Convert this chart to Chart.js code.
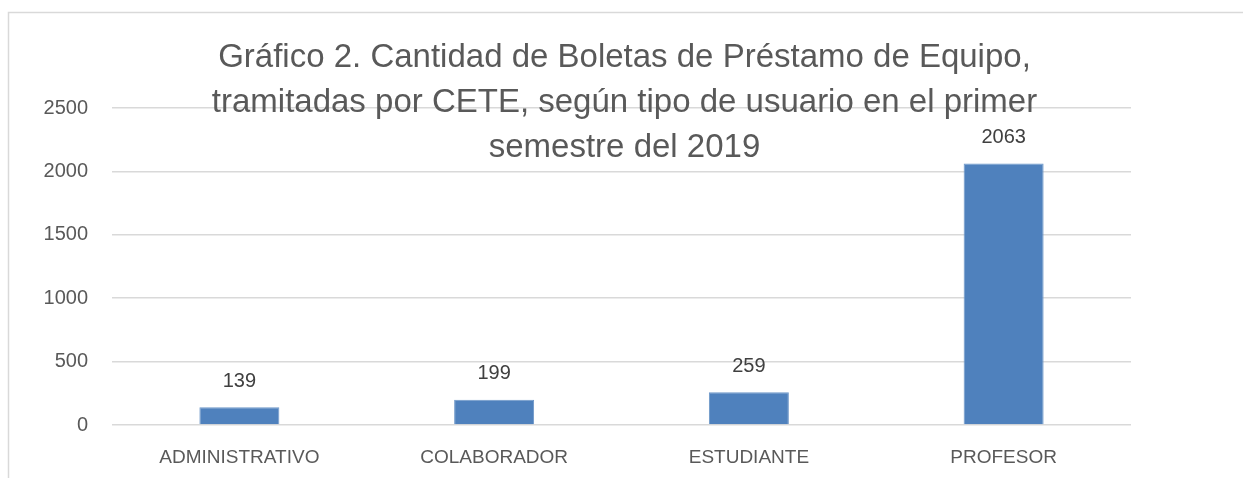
<!DOCTYPE html>
<html lang="es">
<head>
<meta charset="utf-8">
<title>Boletas de Préstamo de Equipo</title>
<script src="https://cdn.jsdelivr.net/npm/chart.js@4"></script>
<style>
  html, body { margin: 0; padding: 0; background: #fff; }
  #wrap { width: 1243px; height: 478px; position: relative; }
</style>
</head>
<body>
<div id="wrap"><canvas id="boletasChart"></canvas></div>
<script>
// datos del gráfico
const categorias = ['ADMINISTRATIVO', 'COLABORADOR', 'ESTUDIANTE', 'PROFESOR'];
const boletas = [139, 199, 259, 2063];
const ejeY = [0, 500, 1000, 1500, 2000, 2500];
const titulo = [
  'Gráfico 2. Cantidad de Boletas de Préstamo de Equipo,',
  'tramitadas por CETE, según tipo de usuario en el primer',
  'semestre del 2019'
];

const FUENTE = '"Liberation Sans", Arial, sans-serif';
const GRIS_TEXTO = '#595959';
const GRIS_LINEA = '#d9d9d9';

// marco del gráfico (borde superior e izquierdo)
const marco = {
  id: 'marco',
  beforeDraw(chart) {
    const ctx = chart.ctx;
    ctx.save();
    ctx.fillStyle = '#fff';
    ctx.fillRect(0, 0, chart.width, chart.height);
    ctx.strokeStyle = GRIS_LINEA;
    ctx.lineWidth = 1.5;
    ctx.beginPath();
    ctx.moveTo(chart.width, 12.5);
    ctx.lineTo(8.5, 12.5);
    ctx.lineTo(8.5, chart.height);
    ctx.stroke();
    ctx.restore();
  }
};

// etiquetas con el valor encima de cada barra
const etiquetas = {
  id: 'etiquetas',
  afterDatasetsDraw(chart) {
    const ctx = chart.ctx;
    const meta = chart.getDatasetMeta(0);
    ctx.save();
    ctx.font = '20px ' + FUENTE;
    ctx.fillStyle = '#404040';
    ctx.textAlign = 'center';
    ctx.textBaseline = 'middle';
    meta.data.forEach((bar, i) => {
      ctx.fillText(String(boletas[i]), bar.x, bar.y - 26);
    });
    ctx.restore();
  }
};

// título superpuesto sobre el área de trazado, como en Excel
const tituloSobrepuesto = {
  id: 'tituloSobrepuesto',
  afterDraw(chart) {
    const ctx = chart.ctx;
    const area = chart.chartArea;
    const cx = (area.left + area.right) / 2 + 3;
    ctx.save();
    ctx.font = '33px ' + FUENTE;
    ctx.fillStyle = GRIS_TEXTO;
    ctx.textAlign = 'center';
    ctx.textBaseline = 'alphabetic';
    titulo.forEach((linea, i) => {
      ctx.fillText(linea, cx, 67 + i * 45);
    });
    ctx.restore();
  }
};

const ctx = document.getElementById('boletasChart').getContext('2d');

new Chart(ctx, {
  type: 'bar',
  data: {
    labels: categorias,
    datasets: [{
      label: 'Boletas',
      data: boletas,
      backgroundColor: '#4f81bd',
      borderColor: '#6d97c9',
      borderWidth: 1,
      categoryPercentage: 1,
      barPercentage: 0.314
    }]
  },
  options: {
    responsive: true,
    maintainAspectRatio: false,
    animation: false,
    layout: { padding: { top: 108, right: 112, bottom: 0, left: 0 } },
    plugins: {
      legend: { display: false },
      title: { display: false },
      tooltip: { enabled: false }
    },
    scales: {
      y: {
        min: ejeY[0],
        max: ejeY[ejeY.length - 1],
        afterBuildTicks(scale) {
          scale.ticks = ejeY.map(v => ({ value: v }));
        },
        afterFit(scale) { scale.width = 112; },
        border: { display: false },
        grid: { color: GRIS_LINEA, lineWidth: 1.5, drawTicks: false },
        ticks: {
          padding: 24,
          color: GRIS_TEXTO,
          font: { family: FUENTE, size: 20 },
          callback: value => String(value)
        }
      },
      x: {
        afterFit(scale) { scale.height = 53; },
        border: { display: false },
        grid: { display: false },
        ticks: {
          padding: 13,
          color: GRIS_TEXTO,
          font: { family: FUENTE, size: 19 }
        }
      }
    }
  },
  plugins: [marco, etiquetas, tituloSobrepuesto]
});
</script>
</body>
</html>
